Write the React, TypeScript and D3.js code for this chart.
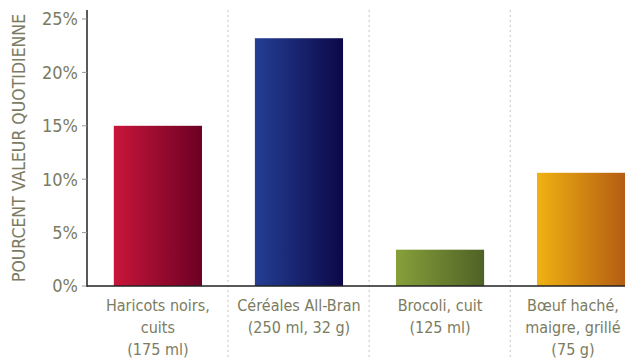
import React from "react";
import * as d3 from "d3";

const categories = [
  ["Haricots noirs,", "cuits", "(175 ml)"],
  ["Céréales All-Bran", "(250 ml, 32 g)"],
  ["Brocoli, cuit", "(125 ml)"],
  ["Bœuf haché,", "maigre, grillé", "(75 g)"],
];
const values = [15, 23.2, 3.4, 10.6];
const tickValues = [0, 5, 10, 15, 20, 25];
const yTitle = "POURCENT VALEUR QUOTIDIENNE";
const gradients = [
  ["#c8163a", "#6c0024"],
  ["#243f94", "#0c0848"],
  ["#87a03a", "#4f6226"],
  ["#f0b212", "#b45c12"],
];

const W = 625;
const H = 358;
const FONT = "'DejaVu Sans Condensed', 'Roboto', sans-serif";
const TEXT = "#7b7b62";

export default function App() {
  const x = d3
    .scaleBand<number>()
    .domain(d3.range(categories.length))
    .range([87, 652])
    .paddingInner(0.375)
    .paddingOuter(0.19);
  const step = x.step();
  const y = d3.scaleLinear().domain([0, 25]).range([286, 19]);
  const bandEdges = d3.range(1, categories.length).map((i) => 87 + step * i);

  return (
    <svg
      width={W}
      height={H}
      style={{ position: "absolute", left: 0, top: 0, background: "#fff" }}
      fontFamily={FONT}
    >
      <defs>
        {gradients.map((g, i) => (
          <linearGradient key={i} id={`g${i}`} x1="0" x2="1" y1="0" y2="0">
            <stop offset="0" stopColor={g[0]} />
            <stop offset="1" stopColor={g[1]} />
          </linearGradient>
        ))}
      </defs>
      {bandEdges.map((bx, i) => (
        <line
          key={i}
          x1={bx}
          x2={bx}
          y1={10}
          y2={H}
          stroke="#c4c4c4"
          strokeWidth={1}
          strokeDasharray="2,3"
        />
      ))}
      {values.map((v, i) => (
        <rect
          key={i}
          x={x(i)}
          width={x.bandwidth()}
          y={y(v)}
          height={y(0) - y(v)}
          fill={`url(#g${i})`}
        />
      ))}
      <line x1={87} x2={87} y1={10} y2={287} stroke="#222" strokeWidth={1.5} />
      <line x1={86} x2={W} y1={286} y2={286} stroke="#222" strokeWidth={1.5} />
      {tickValues.map((t) => (
        <g key={t}>
          <line x1={82} x2={87} y1={y(t)} y2={y(t)} stroke="#999" strokeWidth={1} />
          <text
            x={78}
            y={y(t)}
            dy="0.36em"
            textAnchor="end"
            fontSize={18}
            fill={TEXT}
          >
            {t}%
          </text>
        </g>
      ))}
      <text
        transform={`translate(25,148) rotate(-90)`}
        textAnchor="middle"
        fontSize={17.5}
        fill={TEXT}
      >
        {yTitle}
      </text>
      {categories.map((lines, i) => {
        const cx = Math.min((x(i) as number) + x.bandwidth() / 2, W - 52);
        return (
          <text key={i} x={cx} y={311} textAnchor="middle" fontSize={16} fill={TEXT}>
            {lines.map((l, j) => (
              <tspan key={j} x={cx} dy={j === 0 ? 0 : 22}>
                {l}
              </tspan>
            ))}
          </text>
        );
      })}
    </svg>
  );
}
